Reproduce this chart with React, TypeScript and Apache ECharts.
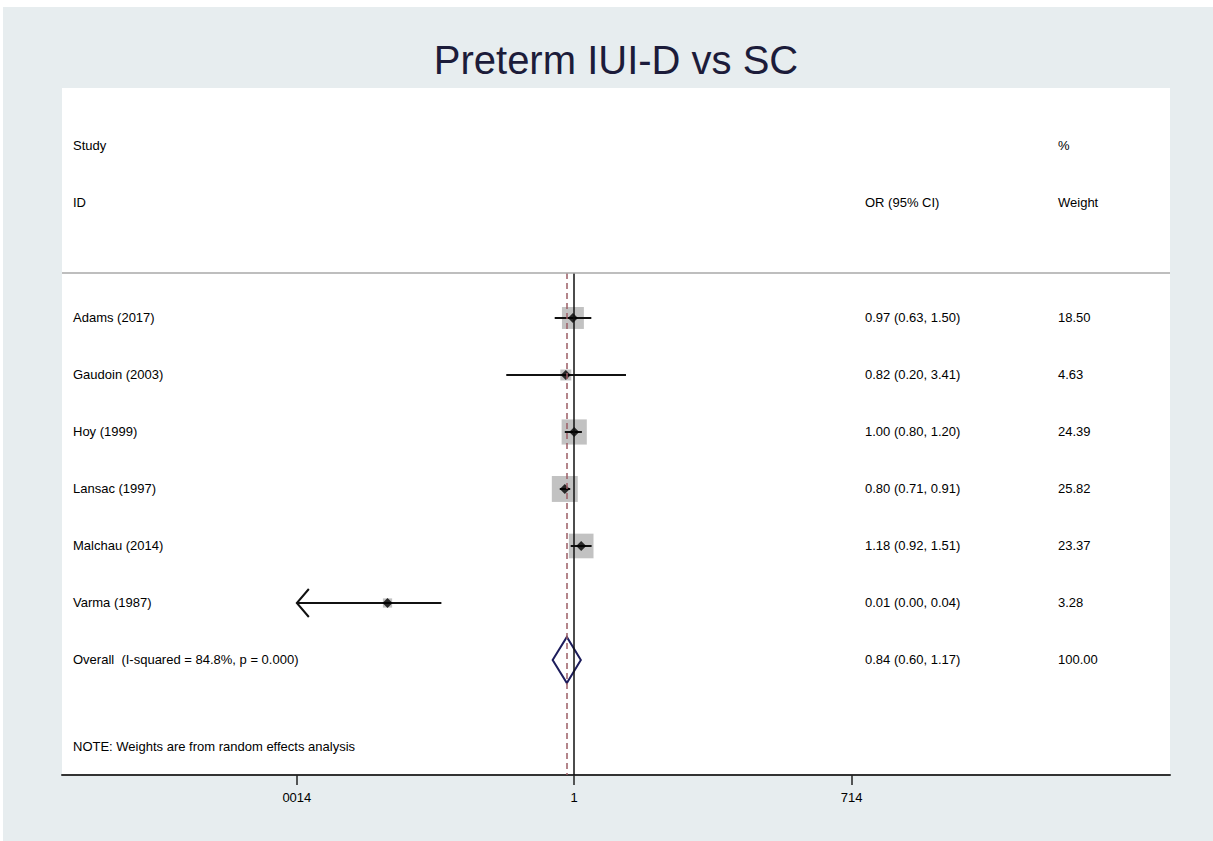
import React, { useEffect, useRef } from "react";
import * as echarts from "echarts";

// ---- data ----
const studies = ["Adams (2017)", "Gaudoin (2003)", "Hoy (1999)", "Lansac (1997)", "Malchau (2014)", "Varma (1987)"];
const orValues = [0.97, 0.82, 1.0, 0.8, 1.18, 0.012];
const ciLower = [0.63, 0.2, 0.8, 0.71, 0.92, 0.0003];
const ciUpper = [1.5, 3.41, 1.2, 0.91, 1.51, 0.043];
const weights = [18.5, 4.63, 24.39, 25.82, 23.37, 3.28];
const orLabels = [
  "0.97 (0.63, 1.50)",
  "0.82 (0.20, 3.41)",
  "1.00 (0.80, 1.20)",
  "0.80 (0.71, 0.91)",
  "1.18 (0.92, 1.51)",
  "0.01 (0.00, 0.04)",
];
const weightLabels = ["18.50", "4.63", "24.39", "25.82", "23.37", "3.28"];
const overallLabel = "Overall  (I-squared = 84.8%, p = 0.000)";
const overallOR = 0.84;
const overallLower = 0.6;
const overallUpper = 1.17;
const overallORLabel = "0.84 (0.60, 1.17)";
const overallWeightLabel = "100.00";
const noteText = "NOTE: Weights are from random effects analysis";
const tickValues = [0.0014, 1, 714];
const tickLabels = ["0014", "1", "714"];
const titleText = "Preterm IUI-D vs SC";

// ---- layout ----
const L = Math.log10;
const X_MIN = -5.27;
const X_MAX = 6.13;
const Y_MIN = -4.035;
const Y_MAX = 8.018;
const ROW_STUDY_HDR = -3.02;
const ROW_ID_HDR = -2.02;
const ROW_SEP = -0.79;
const ROW_OVERALL = 6;
const ROW_NOTE = 7.51;
const COL_STUDY = 73;
const COL_OR = 865;
const COL_W = 1058;
const FONT = '"Liberation Sans", Arial, Helvetica, sans-serif';

type Cell = [number, string];
const textRows: { y: number; cells: Cell[] }[] = [
  { y: ROW_STUDY_HDR, cells: [[COL_STUDY, "Study"], [COL_W, "%"]] },
  { y: ROW_ID_HDR, cells: [[COL_STUDY, "ID"], [COL_OR, "OR (95% CI)"], [COL_W, "Weight"]] },
  ...studies.map((s, i) => ({
    y: i,
    cells: [[COL_STUDY, s], [COL_OR, orLabels[i]], [COL_W, weightLabels[i]]] as Cell[],
  })),
  {
    y: ROW_OVERALL,
    cells: [[COL_STUDY, overallLabel], [COL_OR, overallORLabel], [COL_W, overallWeightLabel]],
  },
  { y: ROW_NOTE, cells: [[COL_STUDY, noteText]] },
];

export default function App() {
  const ref = useRef<HTMLDivElement>(null);
  useEffect(() => {
    if (!ref.current) return;
    const chart = echarts.init(ref.current, null, { renderer: "svg" });
    const clipMin = L(tickValues[0]);
    const clipMax = L(tickValues[tickValues.length - 1]);
    const tickLogs = tickValues.map(L);

    const ciData = studies.map((_, i) => [L(ciLower[i]), L(ciUpper[i]), i]);

    chart.setOption({
      animation: false,
      backgroundColor: "#ffffff",
      graphic: [
        { type: "rect", z: -10, silent: true, shape: { x: 3, y: 7, width: 1210, height: 834 }, style: { fill: "#e7edef" } },
        { type: "rect", z: -9, silent: true, shape: { x: 62, y: 88, width: 1108, height: 687 }, style: { fill: "#ffffff" } },
        {
          type: "text",
          z: 5,
          x: 616,
          y: 60,
          style: {
            text: titleText,
            fill: "#1c1c3a",
            fontSize: 40,
            fontFamily: FONT,
            align: "center",
            verticalAlign: "middle",
          },
        },
      ],
      grid: { left: 62, right: 43, top: 88, bottom: 66, containLabel: false },
      xAxis: {
        type: "value",
        min: X_MIN,
        max: X_MAX,
        splitLine: { show: false },
        axisLine: { show: true, onZero: false, lineStyle: { color: "#333", width: 2 } },
        axisTick: {
          show: true,
          customValues: tickLogs,
          length: 10,
          lineStyle: { color: "#222", width: 1.5 },
        },
        axisLabel: {
          customValues: tickLogs,
          margin: 16,
          fontSize: 13,
          fontFamily: FONT,
          color: "#000",
          formatter: (v: number) => {
            let best = 0;
            tickLogs.forEach((t, i) => {
              if (Math.abs(t - v) < Math.abs(tickLogs[best] - v)) best = i;
            });
            return tickLabels[best];
          },
        },
      },
      yAxis: {
        type: "value",
        inverse: true,
        min: Y_MIN,
        max: Y_MAX,
        show: false,
      },
      series: [
        {
          type: "scatter",
          name: "weight boxes",
          symbol: "rect",
          symbolSize: (val: number[]) => 5.1 * Math.sqrt(val[2]),
          itemStyle: { color: "#b3b3b3" },
          data: studies.map((_, i) => [L(orValues[i]), i, weights[i]]),
          z: 2,
          markLine: {
            silent: true,
            symbol: "none",
            label: { show: false },
            data: [
              [
                { coord: [0, ROW_SEP], lineStyle: { color: "#111", width: 1.5, type: "solid" } },
                { coord: [0, Y_MAX] },
              ],
              [
                {
                  coord: [L(overallOR), ROW_SEP],
                  lineStyle: { color: "#9c5d66", width: 1.5, type: [6, 4] },
                },
                { coord: [L(overallOR), Y_MAX] },
              ],
              { yAxis: ROW_SEP, lineStyle: { color: "#a8a8a8", width: 1.5, type: "solid" } },
            ],
          },
        },
        {
          type: "custom",
          name: "ci",
          z: 3,
          data: ciData,
          renderItem: (params: any, api: any) => {
            const lo = api.value(0);
            const hi = api.value(1);
            const y = api.value(2);
            const loC = Math.max(lo, clipMin);
            const hiC = Math.min(hi, clipMax);
            const p1 = api.coord([loC, y]);
            const p2 = api.coord([hiC, y]);
            const children: any[] = [
              {
                type: "line",
                shape: { x1: p1[0], y1: p1[1], x2: p2[0], y2: p2[1] },
                style: { stroke: "#111", lineWidth: 2 },
              },
            ];
            if (lo < clipMin) {
              children.push({
                type: "polyline",
                shape: { points: [[p1[0] + 12, p1[1] - 14], [p1[0], p1[1]], [p1[0] + 12, p1[1] + 14]] },
                style: { stroke: "#111", lineWidth: 2, fill: "none" },
              });
            }
            return { type: "group", children };
          },
        },
        {
          type: "scatter",
          name: "estimates",
          symbol: "diamond",
          symbolSize: 10,
          itemStyle: { color: "#000" },
          z: 4,
          data: studies.map((_, i) => [L(orValues[i]), i]),
        },
        {
          type: "custom",
          name: "overall",
          z: 4,
          data: [[L(overallLower), L(overallOR), L(overallUpper), ROW_OVERALL]],
          renderItem: (params: any, api: any) => {
            const y = api.value(3);
            const pl = api.coord([api.value(0), y]);
            const pc = api.coord([api.value(1), y]);
            const pr = api.coord([api.value(2), y]);
            const h = 23;
            return {
              type: "polygon",
              shape: { points: [[pl[0], pl[1]], [pc[0], pc[1] - h], [pr[0], pr[1]], [pc[0], pc[1] + h]] },
              style: { stroke: "#1d1d5c", lineWidth: 2, fill: "none" },
            };
          },
        },
        {
          type: "custom",
          name: "texts",
          z: 5,
          silent: true,
          data: textRows.map((r, i) => [0, r.y, i]),
          renderItem: (params: any, api: any) => {
            const idx = api.value(2);
            const p = api.coord([0, api.value(1)]);
            const row = textRows[idx];
            return {
              type: "group",
              children: row.cells.map(([x, t]) => ({
                type: "text",
                x,
                y: p[1],
                style: {
                  text: t,
                  fill: "#000",
                  fontSize: 13,
                  fontFamily: FONT,
                  align: "left",
                  verticalAlign: "middle",
                },
              })),
            };
          },
        },
      ],
    });
    return () => chart.dispose();
  }, []);
  return (
    <div
      ref={ref}
      style={{ position: "fixed", left: 0, top: 0, width: 1213, height: 841 }}
    />
  );
}
